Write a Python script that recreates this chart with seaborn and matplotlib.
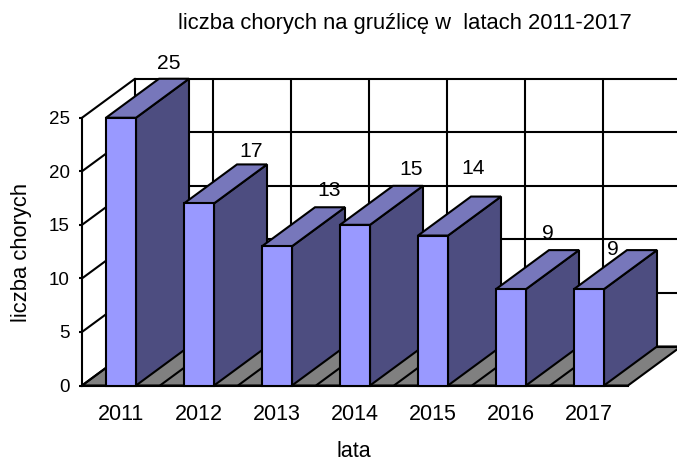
import pandas as pd
import matplotlib.pyplot as plt
import seaborn as sns

lata = ['2011', '2012', '2013', '2014', '2015', '2016', '2017']
chorzy = [25, 17, 13, 15, 14, 9, 9]
y_ticks = [0, 5, 10, 15, 20, 25]

# label offsets from the top of the bar front, in pixels
lab_dx = [48, 52, 52, 56, 40, 37, 24]
lab_dy = [54, 52, 56, 55, 67, 56, 40]

sns.set_style('white')
plt.rcParams['font.family'] = ['Liberation Sans', 'DejaVu Sans']

front = '#9999ff'
top = '#7777bb'
side = '#4d4d80'
floor = '#808080'
lw = 1.5

# pixel layout of the fake 3d box
W, H = 677, 461
left_px, base_px = 82, 385.5
cat_px = 78
unit_px = 10.71
dx = 53 / cat_px
dy = 39 / unit_px

df = pd.DataFrame({'lata': lata, 'chorzy': chorzy})

fig = plt.figure(figsize=(W / 100, H / 100), dpi=100)
ax = fig.add_axes([0, 0, 1, 1])
ax.patch.set_alpha(0)

sns.barplot(data=df, x='lata', y='chorzy', color=front, saturation=1, width=30 / cat_px,
            edgecolor='black', linewidth=lw, ax=ax)
bars = list(ax.patches)

ax.set_xlim(-0.5 - left_px / cat_px, -0.5 + (W - left_px) / cat_px)
ax.set_ylim((base_px - H) / unit_px, base_px / unit_px)

x0 = -0.5
x1 = x0 + len(lata)
ymax = y_ticks[-1]

# floor
ax.fill([x0, x1, x1 + dx, x0 + dx], [0, 0, dy, dy], facecolor=floor, edgecolor='black', lw=lw, zorder=1)
for i in range(1, len(lata)):
    ax.plot([x0 + i, x0 + i + dx], [0, dy], color='black', lw=lw, zorder=1.2, solid_capstyle='butt')

# back wall and left wall
for t in y_ticks:
    ax.plot([x0 + dx, x1 + dx], [t + dy, t + dy], color='black', lw=lw, zorder=1.5)
    ax.plot([x0, x0 + dx], [t, t + dy], color='black', lw=lw, zorder=1.5)
for i in range(len(lata)):
    ax.plot([x0 + i + dx, x0 + i + dx], [dy, ymax + dy], color='black', lw=lw, zorder=1.5)

# top and side faces for each bar, later bars cover earlier ones
for i, p in enumerate(bars):
    bx, w, h = p.get_x(), p.get_width(), p.get_height()
    z = 3 + i
    p.set_zorder(z + 0.2)
    ax.fill([bx + w, bx + w + dx, bx + w + dx, bx + w], [0, dy, h + dy, h],
            facecolor=side, edgecolor='black', lw=lw, zorder=z, joinstyle='miter')
    ax.fill([bx, bx + dx, bx + w + dx, bx + w], [h, h + dy, h + dy, h],
            facecolor=top, edgecolor='black', lw=lw, zorder=z + 0.1, joinstyle='miter')
    ax.annotate(str(chorzy[i]), (bx + w / 2, h), xytext=(lab_dx[i], lab_dy[i]), textcoords='offset pixels',
                ha='center', va='center', fontsize=15.2, color='black', zorder=20)

sns.despine(ax=ax, top=True, right=True)
ax.spines['left'].set_position(('data', x0))
ax.spines['left'].set_bounds(0, ymax)
ax.spines['bottom'].set_position(('data', 0))
ax.spines['bottom'].set_bounds(x0, x1)
for s in ['left', 'bottom']:
    ax.spines[s].set_linewidth(lw)
    ax.spines[s].set_color('black')
    ax.spines[s].set_zorder(2.5)

ax.set_yticks(y_ticks)
ax.set_xticks(range(len(lata)))
ax.set_xticklabels(lata)
ax.tick_params(axis='y', length=2, width=lw, pad=7, labelsize=13.5, left=True, color='black', labelcolor='black')
ax.tick_params(axis='x', length=0, pad=13, labelsize=15.5, labelcolor='black')

ax.set_xlabel('')
ax.set_ylabel('')
fig.text(354 / W, 1 - 451 / H, 'lata', ha='center', va='center', fontsize=15.5, color='black')
fig.text(22 / W, 1 - 252 / H, 'liczba chorych', rotation=90, ha='center', va='center', fontsize=15.8, color='black')
fig.text(405 / W, 1 - 24 / H, 'liczba chorych na gruźlicę w  latach 2011-2017', ha='center', va='center', fontsize=15.8, color='black')

fig.savefig('out.png', dpi=100)
